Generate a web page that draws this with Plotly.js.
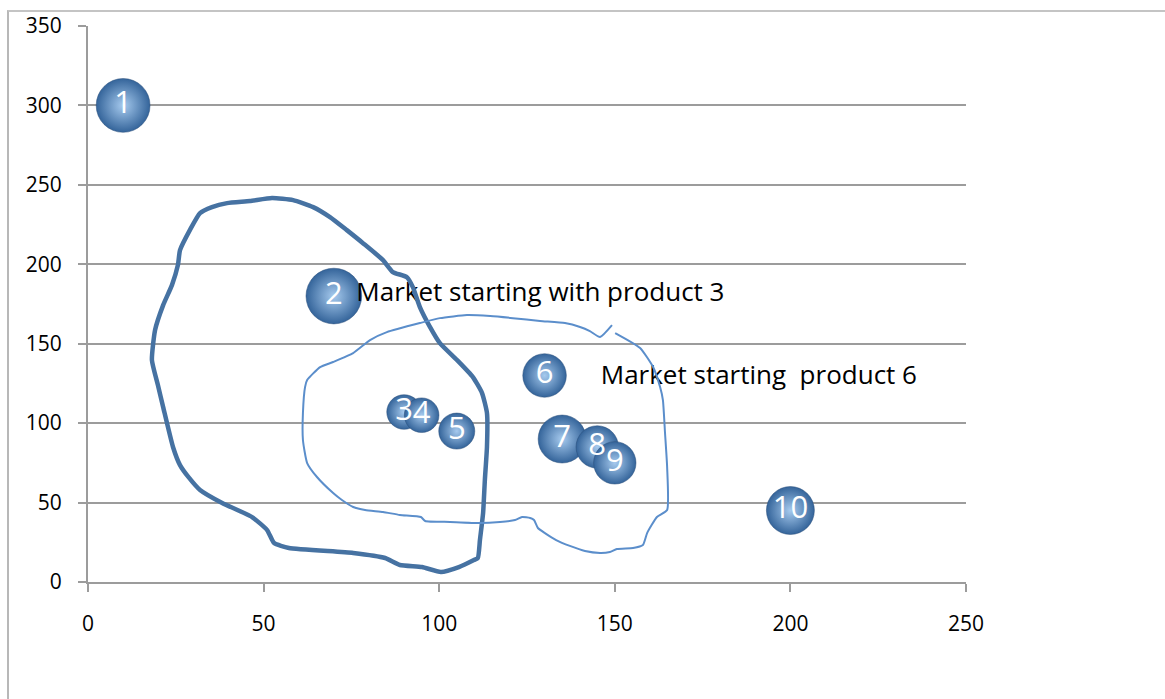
<!DOCTYPE html>
<html>
<head>
<meta charset="utf-8">
<script src="https://cdn.plot.ly/plotly-3.0.1.min.js"></script>
<style>
  html, body { margin: 0; padding: 0; background: #fff; overflow: hidden; }
  #chart { width: 1165px; height: 699px; }
  #frame { position: absolute; left: 7px; top: 10px; width: 2000px; height: 2000px;
           border-left: 2px solid #b8b8b8; border-top: 2px solid #c4c4c4; pointer-events: none; }
</style>
</head>
<body>
<div id="chart"></div>
<div id="frame"></div>
<script>
// ---- data ----
const productLabels = ["1","2","3","4","5","6","7","8","9","10"];
const productX = [10, 70, 90, 95, 105, 130, 135, 145, 150, 200];
const productY = [300, 180, 107, 105, 95, 130, 90, 85, 75, 45];
const productSize = [29, 31, 12, 12, 13, 19, 23, 18, 18, 23];

const xTicks = [0, 50, 100, 150, 200, 250];
const yTicks = [0, 50, 100, 150, 200, 250, 300, 350];

// hand-drawn market outlines (data units)
const market3X = [35.3,39.6,46.1,52.4,58.4,64.1,68.9,73.7,78.3,84.0,86.8,90.8,92.5,94.5,97.4,100.2,105.1,109.6,112.2,113.6,113.6,113.0,112.5,111.6,111.0,109.9,105.6,100.5,95.1,88.8,84.6,75.5,57.2,53.0,51.0,46.7,38.2,31.9,28.8,26.2,24.2,21.4,19.9,18.2,19.1,21.4,23.9,25.6,26.2,29.0,31.9,35.3];
const market3Y = [236.0,238.5,239.8,241.7,240.4,236.0,229.7,221.5,213.3,202.6,195.1,191.9,185.6,173.1,160.5,150.4,139.7,129.0,118.9,106.4,85.0,64.2,43.4,26.4,15.1,13.8,9.4,6.3,9.4,10.7,15.1,18.3,21.4,24.5,32.7,40.9,49.7,57.9,65.5,73.6,85.0,110.1,124.0,139.7,158.6,174.3,186.9,199.5,208.9,221.5,232.2,236.0];

const market6X = [150.1,157.2,160.9,162.9,163.7,164.3,164.9,164.9,162.0,159.2,158.0,155.2,150.6,148.6,145.8,141.5,137.2,133.3,130.1,128.1,127.0,125.9,123.6,121.6,117.3,111.6,103.1,96.0,94.8,88.8,84.0,78.9,75.5,72.3,69.8,65.2,62.4,61.2,61.2,61.8,62.4,66.1,69.8,75.5,80.3,85.1,94.5,100.2,107.9,114.5,121.0,128.7,135.8,140.1,142.9,145.8,149.2];
const market6Y = [156.7,147.3,135.3,122.7,114.5,93.8,72.4,45.3,40.9,30.8,23.3,21.4,20.8,18.9,18.3,19.5,22.7,26.4,30.8,34.0,39.0,40.3,40.9,39.0,37.8,37.1,37.8,38.4,40.9,42.2,44.1,45.3,47.2,51.6,56.0,66.1,74.9,89.4,106.4,122.7,127.1,135.3,138.5,144.1,152.3,157.3,163.0,166.1,168.0,167.4,166.1,164.3,163.0,160.5,157.9,154.2,161.7];

const noteTexts = ["Market starting with product 3", "Market starting  product 6"];
const noteX = [76.4, 146.0];
const noteY = [181, 129];

// ---- traces ----
const bubbles = {
  type: "scatter", mode: "markers+text",
  x: productX, y: productY, text: productLabels,
  textposition: "middle center",
  textfont: { family: "Open Sans, sans-serif", size: 31, color: "#ffffff" },
  marker: {
    size: productSize, sizemode: "area", sizeref: 0.02,
    opacity: 1,
    color: "#34649a",
    gradient: { type: "radial", color: "#a6caee" },
    line: { width: 0.5, color: "#2a4f7a" }
  },
  hoverinfo: "none", cliponaxis: false
};

const notes = {
  type: "scatter", mode: "text",
  x: noteX, y: noteY, text: noteTexts,
  textposition: "middle right",
  textfont: { family: "Open Sans, sans-serif", size: 26, color: "#000000" },
  hoverinfo: "none", cliponaxis: false
};

const outline3 = {
  type: "scatter", mode: "lines", x: market3X, y: market3Y,
  line: { color: "#4672a2", width: 4.5, shape: "spline", smoothing: 0.5 },
  hoverinfo: "none"
};
const outline6 = {
  type: "scatter", mode: "lines", x: market6X, y: market6Y,
  line: { color: "#5b8ecb", width: 2, shape: "spline", smoothing: 0.5 },
  hoverinfo: "none"
};

const axisCommon = {
  showline: true, linecolor: "#9c9c9c", linewidth: 2,
  ticks: "outside", ticklen: 8, tickcolor: "#9c9c9c", tickwidth: 2,
  tickfont: { family: "Open Sans, sans-serif", size: 21, color: "#000" },
  zeroline: false, fixedrange: true
};

const layout = {
  width: 1165, height: 699,
  margin: { l: 88, r: 199, t: 26, b: 117, pad: 0 },
  paper_bgcolor: "#ffffff", plot_bgcolor: "#ffffff",
  showlegend: false,
  xaxis: Object.assign({}, axisCommon, {
    range: [0, 250], tickmode: "array", tickvals: xTicks, ticktext: xTicks.map(String),
    showgrid: false, ticklabelstandoff: 14
  }),
  yaxis: Object.assign({}, axisCommon, {
    range: [0, 350], tickmode: "array", tickvals: yTicks, ticktext: yTicks.map(String),
    showgrid: true, gridcolor: "#9c9c9c", gridwidth: 2, ticklabelstandoff: 12
  })
};

Plotly.newPlot("chart", [bubbles, notes, outline3, outline6], layout, { staticPlot: true, displayModeBar: false });
</script>
</body>
</html>
